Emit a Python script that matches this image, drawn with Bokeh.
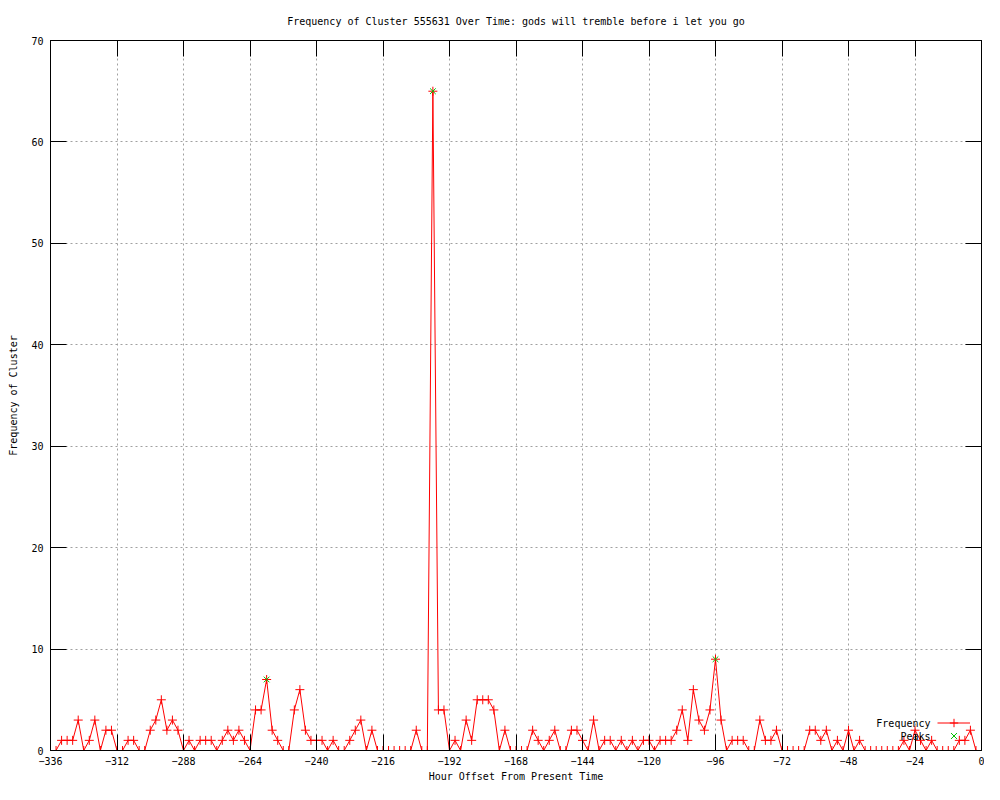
from bokeh.plotting import figure
from bokeh.models import Range1d, FixedTicker, LinearAxis, Legend, LegendItem, Label
from bokeh.core.properties import value
from bokeh.embed import file_html
from bokeh.resources import INLINE

# ---------------- data ----------------
hours = list(range(-336, 0, 2))
frequency = [
    0, 0, 1, 1, 1, 3, 0, 1, 3, 0, 2, 2,
    0, 0, 1, 1, 0, 0, 2, 3, 5, 2, 3, 2,
    0, 1, 0, 1, 1, 1, 0, 1, 2, 1, 2, 1,
    0, 4, 4, 7, 2, 1, 0, 0, 4, 6, 2, 1,
    1, 1, 0, 1, 0, 0, 1, 2, 3, 0, 2, 0,
    0, 0, 0, 0, 0, 0, 2, 0, 0, 65, 4, 4,
    0, 1, 0, 3, 1, 5, 5, 5, 4, 0, 2, 0,
    0, 0, 0, 2, 1, 0, 1, 2, 0, 0, 2, 2,
    1, 0, 3, 0, 1, 1, 0, 1, 0, 1, 0, 1,
    1, 0, 1, 1, 1, 2, 4, 1, 6, 3, 2, 4,
    9, 3, 0, 1, 1, 1, 0, 0, 3, 1, 1, 2,
    0, 0, 0, 0, 0, 2, 2, 1, 2, 0, 1, 0,
    2, 0, 1, 0, 0, 0, 0, 0, 0, 0, 1, 0,
    2, 1, 0, 1, 0, 0, 0, 0, 1, 1, 2, 0,
]
peak_hours = [-258, -198, -96]
peak_values = [7, 65, 9]
x_ticks = [-336, -312, -288, -264, -240, -216, -192, -168, -144, -120, -96, -72, -48, -24, 0]
y_ticks = [0, 10, 20, 30, 40, 50, 60, 70]

TITLE = "Frequency of Cluster 555631 Over Time: gods will tremble before i let you go"
FONT = "DejaVu Sans Mono"
FS = "10px"
RED = "#ff0000"
GREEN = "#00c000"
GRID = "#a0a0a0"

p = figure(width=984, height=784, output_backend="svg", toolbar_location=None,
           x_range=Range1d(-336, 0), y_range=Range1d(0, 70),
           min_border_left=50, min_border_right=3, min_border_top=39, min_border_bottom=33,
           x_axis_label="Hour Offset From Present Time",
           y_axis_label="Frequency of Cluster")

p.title.text = TITLE
p.title.align = "center"
p.title.text_font = FONT
p.title.text_font_size = FS
p.title.text_font_style = "normal"
p.title.text_color = "black"
p.title.standoff = 27

p.outline_line_color = "black"
p.outline_line_width = 1
p.background_fill_color = "white"
p.border_fill_color = "white"

for ax, ticks in ((p.xaxis[0], x_ticks), (p.yaxis[0], y_ticks)):
    ax.ticker = FixedTicker(ticks=ticks)
    ax.major_tick_in = 16
    ax.major_tick_out = 0
    ax.major_tick_line_color = "black"
    ax.minor_tick_line_color = None
    ax.axis_line_color = "black"
    ax.major_label_text_font = FONT
    ax.major_label_text_font_size = FS
    ax.major_label_text_color = "black"
    ax.axis_label_text_font = FONT
    ax.axis_label_text_font_size = FS
    ax.axis_label_text_font_style = "normal"
    ax.axis_label_text_color = "black"

p.xaxis[0].major_label_standoff = 6
p.xaxis[0].axis_label_standoff = 3
p.yaxis[0].major_label_standoff = 7
p.yaxis[0].axis_label_standoff = 9

# mirrored ticks on top and right (no labels)
for loc, ticks in (("above", x_ticks), ("right", y_ticks)):
    ax = LinearAxis()
    ax.ticker = FixedTicker(ticks=ticks)
    ax.major_tick_in = 16
    ax.major_tick_out = 0
    ax.minor_tick_line_color = None
    ax.axis_line_color = "black"
    ax.major_label_text_font_size = "1px"
    ax.major_label_text_color = None
    ax.major_label_standoff = 0
    p.add_layout(ax, loc)

p.xgrid.ticker = FixedTicker(ticks=x_ticks)
p.ygrid.ticker = FixedTicker(ticks=y_ticks)
for g in (p.xgrid[0], p.ygrid[0]):
    g.grid_line_color = GRID
    g.grid_line_dash = "2 3"
    g.grid_line_width = 1

line_r = p.line(hours, frequency, line_color=RED, line_width=1)
pts_r = p.scatter(hours, frequency, marker="cross", size=9, line_color=RED, line_width=1)
peak_r = p.scatter(peak_hours, peak_values, marker="x", size=8, line_color=GREEN, line_width=1)

# legend: text on the left, sample on the right (gnuplot style)
def make_legend(renderers, y_bottom):
    leg = Legend(items=[LegendItem(label=value(" "), renderers=renderers)],
                 location=(887, y_bottom), orientation="vertical",
                 glyph_width=33, glyph_height=21, label_height=21, label_width=1,
                 label_standoff=0, spacing=0, padding=0, margin=0,
                 label_text_font_size=FS, label_text_color=None,
                 border_line_color=None, background_fill_alpha=0)
    p.add_layout(leg, "center")

make_legend([line_r, pts_r], 17)
make_legend([peak_r], 4)

for txt, yy in (("Frequency", 27), ("Peaks", 14)):
    p.add_layout(Label(x=880, y=yy, x_units="screen", y_units="screen", text=txt,
                       text_align="right", text_baseline="middle",
                       text_font=FONT, text_font_size=FS, text_color="black"))

open("out.html", "w").write(file_html(p, INLINE))
